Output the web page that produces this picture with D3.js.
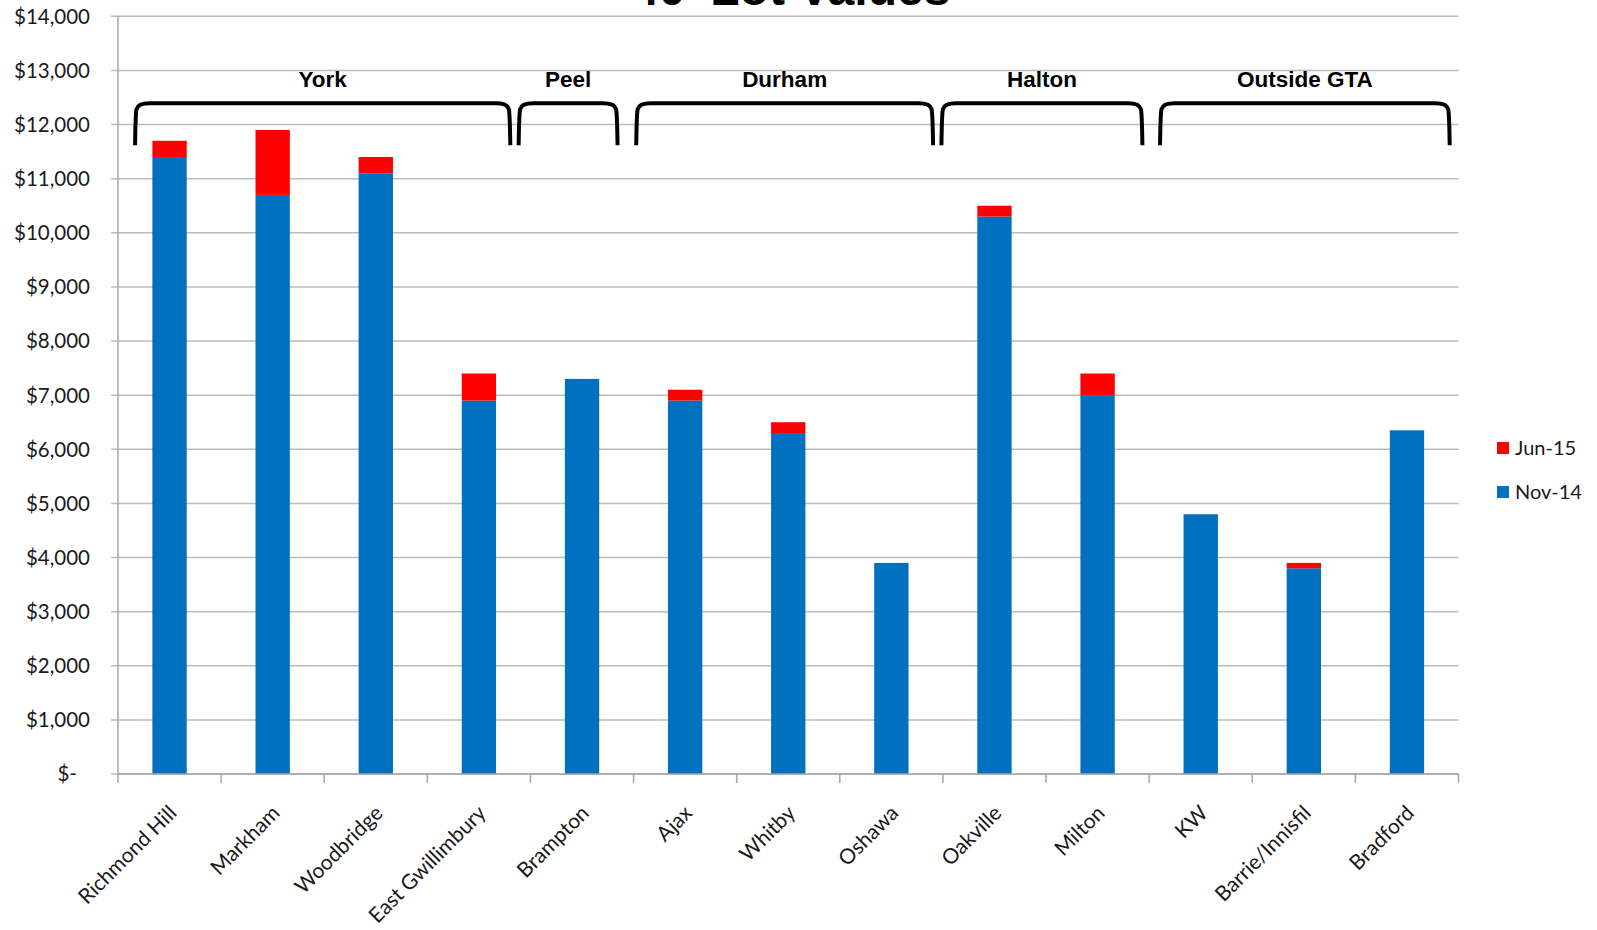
<!DOCTYPE html>
<html>
<head>
<meta charset="utf-8">
<title>40' Lot Values</title>
<script src="https://cdn.jsdelivr.net/npm/d3@7"></script>
<style>
  html, body { margin: 0; padding: 0; background: #ffffff; }
  svg { display: block; }
</style>
</head>
<body>
<svg id="chart" width="1597" height="930"></svg>
<script>
// Municipalities along the x axis
const categories = ["Richmond Hill", "Markham", "Woodbridge", "East Gwillimbury", "Brampton",
  "Ajax", "Whitby", "Oshawa", "Oakville", "Milton", "KW", "Barrie/Innisfil", "Bradford"];

// Nov-14 lot value per front foot (base of each stack)
const nov14 = [11400, 10700, 11100, 6900, 7300, 6900, 6300, 3900, 10300, 7000, 4800, 3800, 6350];

// Increase by Jun-15 (stacked on top of Nov-14)
const jun15 = [300, 1200, 300, 500, 0, 200, 200, 0, 200, 400, 0, 100, 0];

// Y axis tick values
const yTicks = [0, 1000, 2000, 3000, 4000, 5000, 6000, 7000, 8000, 9000, 10000, 11000, 12000, 13000, 14000];

// Regional groupings shown with brackets above the bars
const regionNames = ["York", "Peel", "Durham", "Halton", "Outside GTA"];

// Bracket extents, in category-index units (0 = first category centre)
const bracketSpans = [[-0.32, 3.29], [3.40, 4.33], [4.54, 7.39], [7.50, 9.42], [9.62, 12.40]];

const seriesKeys = ["Nov-14", "Jun-15"];
const seriesColors = { "Nov-14": "#0070C0", "Jun-15": "#FF0000" };
const legendOrder = ["Jun-15", "Nov-14"];

const table = categories.map((c, i) => ({ category: c, "Nov-14": nov14[i], "Jun-15": jun15[i] }));

const svg = d3.select("#chart");
const plot = { left: 118, right: 1458.5, top: 16.3, bottom: 774 };
const labelFont = "Lato, 'Open Sans', sans-serif";
const boldFont = "'Liberation Sans', Arial, sans-serif";

const x = d3.scaleBand()
  .domain(categories)
  .range([plot.left, plot.right])
  .paddingInner(0.667)
  .paddingOuter(0.3335);

// Continuous index scale for placing annotations between category centres
const xIndex = d3.scaleLinear()
  .domain([0, categories.length - 1])
  .range([x(categories[0]) + x.bandwidth() / 2,
          x(categories[categories.length - 1]) + x.bandwidth() / 2]);

const y = d3.scaleLinear()
  .domain([0, 14000])
  .range([plot.bottom, plot.top]);

// Title (sits at the very top of the canvas)
svg.append("text")
  .attr("x", (plot.left + plot.right) / 2 + 3)
  .attr("y", 5)
  .attr("text-anchor", "middle")
  .attr("font-family", boldFont)
  .attr("font-weight", "bold")
  .attr("font-size", 48)
  .attr("fill", "#000")
  .text("40' Lot Values");

// Horizontal gridlines
svg.append("g")
  .selectAll("line")
  .data(yTicks)
  .join("line")
  .attr("x1", plot.left - 7)
  .attr("x2", plot.right)
  .attr("y1", d => y(d))
  .attr("y2", d => y(d))
  .attr("stroke", "#bcbcbc")
  .attr("stroke-width", 1.5);

// Y axis labels
const fmt = d3.format(",");
svg.append("g")
  .selectAll("text")
  .data(yTicks)
  .join("text")
  .attr("x", d => d === 0 ? 77 : 90)
  .attr("y", d => y(d))
  .attr("dy", "0.36em")
  .attr("text-anchor", "end")
  .attr("font-family", labelFont)
  .attr("font-size", 20.5)
  .attr("fill", "#1a1a1a")
  .text(d => d === 0 ? "$-" : "$" + fmt(d));

// Stacked bars
const stacked = d3.stack().keys(seriesKeys)(table);
svg.append("g")
  .selectAll("g")
  .data(stacked)
  .join("g")
  .attr("fill", s => seriesColors[s.key])
  .selectAll("rect")
  .data(s => s)
  .join("rect")
  .attr("x", d => x(d.data.category))
  .attr("width", x.bandwidth())
  .attr("y", d => y(d[1]))
  .attr("height", d => Math.max(0, y(d[0]) - y(d[1])));

// Left axis line
svg.append("line")
  .attr("x1", plot.left).attr("x2", plot.left)
  .attr("y1", plot.top).attr("y2", plot.bottom)
  .attr("stroke", "#a6a6a6").attr("stroke-width", 1.5);

// Bottom axis line with tick marks between categories
svg.append("line")
  .attr("x1", plot.left).attr("x2", plot.right)
  .attr("y1", plot.bottom).attr("y2", plot.bottom)
  .attr("stroke", "#a6a6a6").attr("stroke-width", 1.5);

const boundaries = d3.range(categories.length + 1).map(i => plot.left + i * x.step());
svg.append("g")
  .selectAll("line")
  .data(boundaries)
  .join("line")
  .attr("x1", d => d).attr("x2", d => d)
  .attr("y1", plot.bottom).attr("y2", plot.bottom + 9)
  .attr("stroke", "#a6a6a6").attr("stroke-width", 1.5);

// Rotated category labels
svg.append("g")
  .selectAll("text")
  .data(categories)
  .join("text")
  .attr("transform", c => `translate(${x(c) + x.bandwidth() / 2 + 3},${plot.bottom + 35}) rotate(-45)`)
  .attr("text-anchor", "end")
  .attr("dy", "0.36em")
  .attr("font-family", labelFont)
  .attr("font-size", 21)
  .attr("fill", "#1a1a1a")
  .text(c => c);

// Region brackets with labels
const bracketTop = plot.top + 87;
const bracketBottom = plot.top + 129;
const r = 13;
regionNames.forEach((name, i) => {
  const x1 = xIndex(bracketSpans[i][0]);
  const x2 = xIndex(bracketSpans[i][1]);
  const path = d3.path();
  path.moveTo(x1 - 1.5, bracketBottom);
  path.quadraticCurveTo(x1 - 1, bracketTop + r * 0.7, x1, bracketTop + r * 0.45);
  path.quadraticCurveTo(x1 + 1.5, bracketTop, x1 + r, bracketTop);
  path.lineTo(x2 - r, bracketTop);
  path.quadraticCurveTo(x2 - 1.5, bracketTop, x2, bracketTop + r * 0.45);
  path.quadraticCurveTo(x2 + 1, bracketTop + r * 0.7, x2 + 1.5, bracketBottom);
  svg.append("path")
    .attr("d", path.toString())
    .attr("fill", "none")
    .attr("stroke", "#000")
    .attr("stroke-width", 4)
    .attr("stroke-linejoin", "round");
  svg.append("text")
    .attr("x", (x1 + x2) / 2)
    .attr("y", bracketTop - 16)
    .attr("text-anchor", "middle")
    .attr("font-family", boldFont)
    .attr("font-weight", "bold")
    .attr("font-size", 22.5)
    .attr("fill", "#000")
    .text(name);
});

// Legend
const legend = svg.append("g")
  .selectAll("g")
  .data(legendOrder)
  .join("g")
  .attr("transform", (k, i) => `translate(1497,${448 + i * 44})`);
legend.append("rect")
  .attr("x", 0).attr("y", -6)
  .attr("width", 12).attr("height", 12)
  .attr("fill", k => seriesColors[k]);
legend.append("text")
  .attr("x", 18).attr("y", 0)
  .attr("dy", "0.36em")
  .attr("font-family", labelFont)
  .attr("font-size", 20)
  .attr("fill", "#1a1a1a")
  .text(k => k);
</script>
</body>
</html>
